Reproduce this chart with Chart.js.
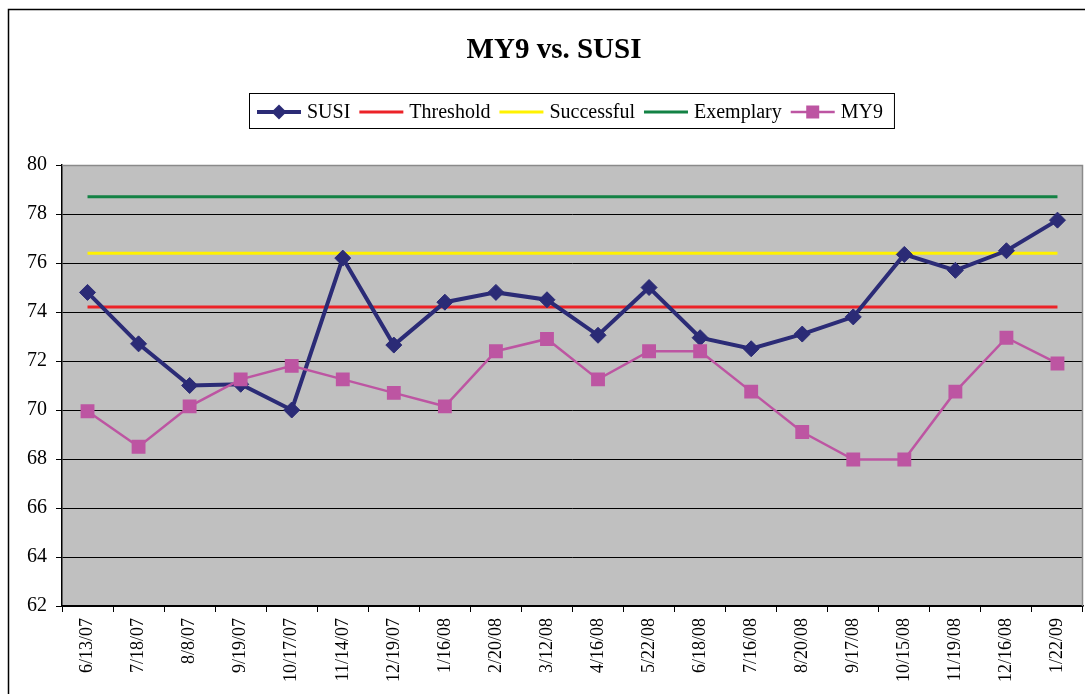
<!DOCTYPE html>
<html>
<head>
<meta charset="utf-8">
<title>MY9 vs. SUSI</title>
<script src="https://cdn.jsdelivr.net/npm/chart.js@4/dist/chart.umd.min.js"></script>
<style>
  html, body { margin: 0; padding: 0; background: #ffffff; }
  #wrap { width: 1085px; height: 694px; position: relative; }
</style>
</head>
<body>
<div id="wrap"><canvas id="chart" width="1085" height="694"></canvas></div>
<script>
// Survey dates
const categories = ['6/13/07', '7/18/07', '8/8/07', '9/19/07', '10/17/07', '11/14/07', '12/19/07',
  '1/16/08', '2/20/08', '3/12/08', '4/16/08', '5/22/08', '6/18/08', '7/16/08', '8/20/08',
  '9/17/08', '10/15/08', '11/19/08', '12/16/08', '1/22/09'];

// Scores per date
const susiValues = [74.8, 72.7, 71.0, 71.05, 70.0, 76.2, 72.65, 74.4, 74.8, 74.5, 73.05, 75.0,
  72.95, 72.5, 73.1, 73.8, 76.35, 75.7, 76.5, 77.75];
const my9Values = [69.95, 68.5, 70.15, 71.25, 71.8, 71.25, 70.7, 70.15, 72.4, 72.9, 71.25, 72.4,
  72.4, 70.75, 69.1, 67.98, 67.98, 70.75, 72.95, 71.9];

// Target levels
const thresholdValues = [74.2, 74.2, 74.2, 74.2, 74.2, 74.2, 74.2, 74.2, 74.2, 74.2,
  74.2, 74.2, 74.2, 74.2, 74.2, 74.2, 74.2, 74.2, 74.2, 74.2];
const successfulValues = [76.4, 76.4, 76.4, 76.4, 76.4, 76.4, 76.4, 76.4, 76.4, 76.4,
  76.4, 76.4, 76.4, 76.4, 76.4, 76.4, 76.4, 76.4, 76.4, 76.4];
const exemplaryValues = [78.7, 78.7, 78.7, 78.7, 78.7, 78.7, 78.7, 78.7, 78.7, 78.7,
  78.7, 78.7, 78.7, 78.7, 78.7, 78.7, 78.7, 78.7, 78.7, 78.7];

// Value axis ticks
const yTicks = [62, 64, 66, 68, 70, 72, 74, 76, 78, 80];

const SERIF = '"Liberation Serif", "Times New Roman", serif';
const NAVY = '#2b2b76';
const PINK = '#bd55a2';
const RED = '#ec2227';
const YELLOW = '#fff200';
const GREEN = '#138244';

// Draws the title, the framed legend and the outer border
const decorations = {
  id: 'decorations',
  beforeDraw(chart) {
    const { ctx, chartArea: a } = chart;
    ctx.save();
    ctx.fillStyle = '#ffffff';
    ctx.fillRect(0, 0, chart.width, chart.height);
    ctx.fillStyle = '#c0c0c0';
    ctx.fillRect(a.left, a.top, a.right - a.left, a.bottom - a.top);
    ctx.restore();
  },
  beforeDatasetsDraw(chart) {
    const { ctx, chartArea: a } = chart;
    ctx.save();
    ctx.strokeStyle = '#8a8a8a';
    ctx.lineWidth = 1.5;
    ctx.beginPath();
    ctx.moveTo(a.left, a.top + 0.5);
    ctx.lineTo(a.right - 0.5, a.top + 0.5);
    ctx.lineTo(a.right - 0.5, a.bottom);
    ctx.stroke();
    ctx.restore();
  },
  afterDraw(chart) {
    const { ctx } = chart;
    ctx.save();
    // outer frame
    ctx.strokeStyle = '#000000';
    ctx.lineWidth = 1.5;
    ctx.strokeRect(8.5, 9.5, 2000, 2000);

    // title
    ctx.fillStyle = '#000000';
    ctx.font = 'bold 29px ' + SERIF;
    ctx.textAlign = 'center';
    ctx.textBaseline = 'middle';
    ctx.fillText('MY9 vs. SUSI', 554, 51);

    // legend
    ctx.font = '20px ' + SERIF;
    ctx.textAlign = 'left';
    const iconW = 44, gapIcon = 6, gapText = 9;
    const midY = 112;
    let x = 257;
    chart.data.datasets.forEach((ds) => {
      ctx.strokeStyle = ds.borderColor;
      ctx.lineWidth = ds.borderWidth;
      ctx.beginPath();
      ctx.moveTo(x, midY);
      ctx.lineTo(x + iconW, midY);
      ctx.stroke();
      if (ds.pointRadius > 0) {
        const cx = x + iconW / 2;
        ctx.fillStyle = ds.pointBackgroundColor;
        ctx.beginPath();
        if (ds.pointStyle === 'rectRot') {
          const r = 7.5;
          ctx.moveTo(cx, midY - r);
          ctx.lineTo(cx + r, midY);
          ctx.lineTo(cx, midY + r);
          ctx.lineTo(cx - r, midY);
          ctx.closePath();
        } else {
          ctx.rect(cx - 6.5, midY - 6.5, 13, 13);
        }
        ctx.fill();
      }
      x += iconW + gapIcon;
      ctx.fillStyle = '#000000';
      ctx.fillText(ds.label, x, midY + 1);
      x += ctx.measureText(ds.label).width + gapText;
    });
    ctx.strokeStyle = '#000000';
    ctx.lineWidth = 1;
    ctx.strokeRect(249.5, 93.5, x - 249 + 2, 35);
    ctx.restore();
  }
};

new Chart(document.getElementById('chart'), {
  type: 'line',
  data: {
    labels: categories,
    datasets: [
      {
        label: 'SUSI', data: susiValues, order: 1,
        borderColor: NAVY, backgroundColor: NAVY, borderWidth: 4,
        pointStyle: 'rectRot', pointRadius: 8, pointBackgroundColor: NAVY, pointBorderColor: NAVY,
        pointBorderWidth: 1, tension: 0
      },
      {
        label: 'Threshold', data: thresholdValues, order: 2,
        borderColor: RED, backgroundColor: RED, borderWidth: 3, pointRadius: 0, tension: 0
      },
      {
        label: 'Successful', data: successfulValues, order: 3,
        borderColor: YELLOW, backgroundColor: YELLOW, borderWidth: 3, pointRadius: 0, tension: 0
      },
      {
        label: 'Exemplary', data: exemplaryValues, order: 4,
        borderColor: GREEN, backgroundColor: GREEN, borderWidth: 3, pointRadius: 0, tension: 0
      },
      {
        label: 'MY9', data: my9Values, order: 0,
        borderColor: PINK, backgroundColor: PINK, borderWidth: 2.5,
        pointStyle: 'rect', pointRadius: 9.8, pointBackgroundColor: PINK, pointBorderColor: PINK,
        pointBorderWidth: 0, tension: 0
      }
    ]
  },
  options: {
    responsive: false,
    animation: false,
    devicePixelRatio: 1,
    layout: { autoPadding: false, padding: { top: 165, left: 0, right: 2, bottom: 0 } },
    plugins: {
      legend: { display: false },
      title: { display: false },
      tooltip: { enabled: false }
    },
    scales: {
      x: {
        offset: true,
        afterFit(scale) {
          scale.height = 88;
          scale.paddingLeft = 0;
          scale.paddingRight = 0;
        },
        grid: { drawOnChartArea: false, drawTicks: true, tickLength: 6, color: '#000000', offset: true },
        border: { display: true, color: '#000000', width: 1.5 },
        ticks: {
          minRotation: 90, maxRotation: 90, autoSkip: false, padding: 6,
          color: '#000000', font: { family: SERIF, size: 18 }
        }
      },
      y: {
        min: 62, max: 80,
        afterFit(scale) { scale.width = 62; },
        afterBuildTicks(scale) { scale.ticks = yTicks.map(v => ({ value: v })); },
        grid: { color: '#000000', lineWidth: 1, tickLength: 6, drawTicks: true },
        border: { display: true, color: '#000000', width: 1.5 },
        ticks: { padding: 9, color: '#000000', font: { family: SERIF, size: 20 } }
      }
    }
  },
  plugins: [decorations]
});
</script>
</body>
</html>
